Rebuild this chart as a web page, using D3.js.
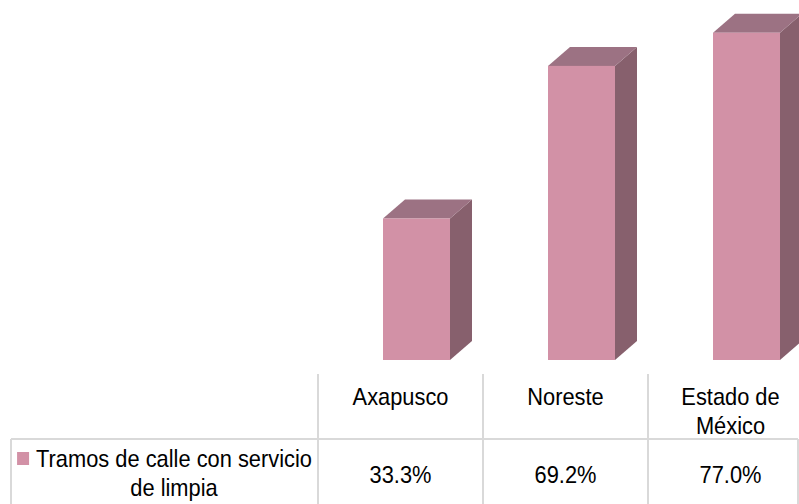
<!DOCTYPE html>
<html>
<head>
<meta charset="utf-8">
<script src="https://cdn.jsdelivr.net/npm/d3@7"></script>
<style>
  html, body { margin: 0; padding: 0; background: #ffffff; }
  svg { display: block; }
  text { font-family: "Liberation Sans", Arial, sans-serif; fill: #000; }
</style>
</head>
<body>
<script>
// Share of street segments with cleaning service, by area
const categories = ["Axapusco", "Noreste", "Estado de México"];
const categoryLines = [["Axapusco"], ["Noreste"], ["Estado de", "México"]];
const values = [33.3, 69.2, 77.0];
const valueLabels = ["33.3%", "69.2%", "77.0%"];
const seriesName = ["Tramos de calle con servicio", "de limpia"];

const W = 799, H = 504;
const svg = d3.select("body").append("svg").attr("width", W).attr("height", H);

const base = 360;
const y = d3.scaleLinear().domain([0, 80]).range([base, 20]);
const x = d3.scaleBand().domain(categories).range([318, 813]).padding(0);
const bw = x.bandwidth();

const depthX = 22, depthY = 19;
const colFront = "#d291a6", colTop = "#9c7283", colSide = "#87606d";

const bars = svg.append("g").selectAll("g").data(categories).join("g");
bars.each(function (c, i) {
  const g = d3.select(this);
  const L = x(c) + bw * 0.394, R = L + bw * 0.406;
  const t = y(values[i]);
  g.append("polygon")
    .attr("points", [[R, t], [R + depthX, t - depthY], [R + depthX, base - depthY], [R, base]].join(" "))
    .attr("fill", colSide);
  g.append("polygon")
    .attr("points", [[L, t], [L + depthX, t - depthY], [R + depthX, t - depthY], [R, t]].join(" "))
    .attr("fill", colTop);
  g.append("rect")
    .attr("x", L).attr("y", t).attr("width", R - L).attr("height", base - t)
    .attr("fill", colFront);
});

// Data table below the plot
const grid = svg.append("g").attr("stroke", "#d9d9d9").attr("stroke-width", 2);
const rowTop = 374, rowMid = 439, tableLeft = 11, tableRight = 798;
x.domain().forEach(c => {
  grid.append("line").attr("x1", x(c)).attr("x2", x(c)).attr("y1", rowTop).attr("y2", H);
});
grid.append("line").attr("x1", tableLeft).attr("x2", tableRight).attr("y1", rowMid).attr("y2", rowMid);
grid.append("line").attr("x1", tableLeft).attr("x2", tableLeft).attr("y1", rowMid).attr("y2", H);
grid.append("line").attr("x1", tableRight).attr("x2", tableRight).attr("y1", rowMid).attr("y2", H);

const sx = 0.91, fs = 24;
function label(px, py, str) {
  return svg.append("text")
    .attr("transform", `translate(${px},${py}) scale(${sx},1)`)
    .attr("text-anchor", "middle")
    .attr("font-size", fs)
    .text(str);
}

categories.forEach((c, i) => {
  const cx = x(c) + bw / 2;
  categoryLines[i].forEach((ln, k) => label(cx, 405 + k * 29, ln));
  label(cx, 483, valueLabels[i]);
});

const legendCx = 174;
const first = label(legendCx, 466.5, seriesName[0]);
label(legendCx, 495.5, seriesName[1]);
const tw = first.node().getComputedTextLength() * sx;
svg.append("rect")
  .attr("x", legendCx - tw / 2 - 19).attr("y", 452)
  .attr("width", 12).attr("height", 13)
  .attr("fill", colFront);
</script>
</body>
</html>
